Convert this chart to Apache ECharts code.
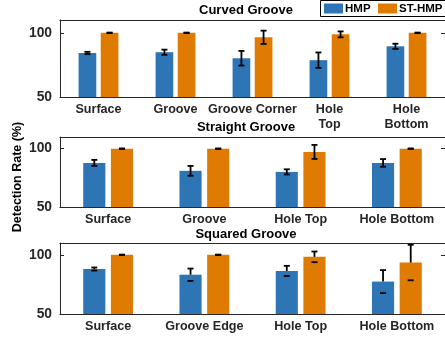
<!DOCTYPE html>
<html>
<head>
<meta charset="utf-8">
<script src="https://cdn.jsdelivr.net/npm/echarts@6/dist/echarts.min.js"></script>
<style>
  html, body { margin: 0; padding: 0; background: #fff; }
  #chart { width: 445px; height: 337px; }
</style>
</head>
<body>
<div id="chart"></div>
<script>
// Curved groove
const curvedCategories = ['Surface', 'Groove', 'Groove Corner', 'Hole\nTop', 'Hole\nBottom'];
const curvedHmp = [84.3, 84.9, 80.2, 78.7, 89.5];
const curvedHmpErr = [0.9, 2.0, 5.7, 6.0, 2.0];
const curvedSt = [100, 100, 96.5, 98.8, 100];
const curvedStErr = [0.2, 0.2, 5.2, 2.3, 0.2];

// Straight groove
const straightCategories = ['Surface', 'Groove', 'Hole Top', 'Hole Bottom'];
const straightHmp = [87.8, 81.0, 80.1, 87.8];
const straightHmpErr = [2.6, 4.2, 2.2, 3.3];
const straightSt = [100, 100, 97.2, 100];
const straightStErr = [0.2, 0.2, 6.0, 0.2];

// Squared groove
const squaredCategories = ['Surface', 'Groove Edge', 'Hole Top', 'Hole Bottom'];
const squaredHmp = [88.0, 83.2, 86.4, 77.4];
const squaredHmpErr = [1.3, 5.2, 4.3, 9.7];
const squaredSt = [100, 100, 98.3, 93.5];
const squaredStErr = [0.2, 0.2, 4.5, 15.0];

const yTicks = [50, 100];
const panelTitles = ['Curved Groove', 'Straight Groove', 'Squared Groove'];
const seriesNames = ['HMP', 'ST-HMP'];

const BLUE = '#2e75b6';
const ORANGE = '#df7b00';
const AXIS = '#262626';
const FONT = '"Liberation Sans", Arial, sans-serif';

const BAR_W = 0.23, BAR_GAP = 0.25;
const OFFSET = (BAR_W + BAR_W * BAR_GAP) / 2;

const panels = [
  { cats: curvedCategories, hmp: curvedHmp, hmpErr: curvedHmpErr, st: curvedSt, stErr: curvedStErr, top: 20, height: 77, upperOnly: false, titleY: 10 },
  { cats: straightCategories, hmp: straightHmp, hmpErr: straightHmpErr, st: straightSt, stErr: straightStErr, top: 137, height: 70, upperOnly: false, titleY: 127.5 },
  { cats: squaredCategories, hmp: squaredHmp, hmpErr: squaredHmpErr, st: squaredSt, stErr: squaredStErr, top: 243, height: 71, upperOnly: true, titleY: 234 }
];

// Error bar drawn beside its bar; upperOnly draws the stem only above the bar top.
function errorBar(sign, upperOnly) {
  return function (params, api) {
    const i = api.value(0), v = api.value(1), e = api.value(2);
    const band = api.size([1, 0])[0];
    const dx = sign * band * OFFSET;
    const hi = api.coord([i, v + e]);
    const lo = api.coord([i, v - e]);
    const mid = api.coord([i, v]);
    const x = hi[0] + dx;
    const cw = 3;
    const style = { stroke: '#000', lineWidth: 1.8 };
    return {
      type: 'group',
      children: [
        { type: 'line', shape: { x1: x, y1: upperOnly ? mid[1] : lo[1], x2: x, y2: hi[1] }, style },
        { type: 'line', shape: { x1: x - cw, y1: hi[1], x2: x + cw, y2: hi[1] }, style },
        { type: 'line', shape: { x1: x - cw, y1: lo[1], x2: x + cw, y2: lo[1] }, style }
      ]
    };
  };
}

const grids = [], xAxes = [], yAxes = [], series = [], graphics = [];
const labelStyle = { color: AXIS, fontFamily: FONT, fontWeight: 'bold', fontSize: 12.6 };

panels.forEach((p, k) => {
  grids.push({ left: 60, right: -3, top: p.top, height: p.height });
  xAxes.push({
    type: 'category', gridIndex: k, data: p.cats, position: 'bottom',
    axisLine: { lineStyle: { color: AXIS, width: 1 } },
    axisTick: { inside: true, alignWithLabel: true, length: 4, lineStyle: { color: AXIS } },
    axisLabel: Object.assign({ interval: 0, margin: 5, lineHeight: 15 }, labelStyle)
  });
  xAxes.push({
    type: 'category', gridIndex: k, data: p.cats, position: 'top',
    axisLine: { lineStyle: { color: AXIS, width: 1 } },
    axisTick: { inside: true, alignWithLabel: true, length: 4, lineStyle: { color: AXIS } },
    axisLabel: { show: false }
  });
  const yBase = {
    type: 'value', gridIndex: k, min: 50, max: 110, interval: 50,
    splitLine: { show: false },
    axisLine: { show: true, lineStyle: { color: AXIS, width: 1 } },
    axisTick: { show: true, inside: true, length: 4, lineStyle: { color: AXIS } }
  };
  yAxes.push(Object.assign({}, yBase, {
    position: 'left',
    axisLabel: Object.assign({}, labelStyle, {
      margin: 8, fontSize: 13.8,
      formatter: v => (yTicks.indexOf(v) >= 0 ? String(v) : '')
    })
  }));
  yAxes.push(Object.assign({}, yBase, { position: 'right', axisLabel: { show: false } }));

  const xi = k * 2, yi = k * 2;
  series.push({
    name: seriesNames[0], type: 'bar', xAxisIndex: xi, yAxisIndex: yi,
    data: p.hmp, barWidth: (BAR_W * 100) + '%', barGap: (BAR_GAP * 100) + '%',
    itemStyle: { color: BLUE }
  });
  series.push({
    name: seriesNames[1], type: 'bar', xAxisIndex: xi, yAxisIndex: yi,
    data: p.st, barWidth: (BAR_W * 100) + '%', barGap: (BAR_GAP * 100) + '%',
    itemStyle: { color: ORANGE }
  });
  series.push({
    type: 'custom', xAxisIndex: xi, yAxisIndex: yi, z: 5,
    renderItem: errorBar(-1, p.upperOnly),
    encode: { x: 0, y: 1 },
    data: p.hmp.map((v, i) => [i, v, p.hmpErr[i]])
  });
  series.push({
    type: 'custom', xAxisIndex: xi, yAxisIndex: yi, z: 5,
    renderItem: errorBar(1, p.upperOnly),
    encode: { x: 0, y: 1 },
    data: p.st.map((v, i) => [i, v, p.stErr[i]])
  });

  graphics.push({
    type: 'text', x: 246, y: p.titleY,
    style: { text: panelTitles[k], fill: '#000', font: 'bold 13px ' + FONT, textAlign: 'center', textVerticalAlign: 'middle' }
  });
});

graphics.push({
  type: 'text', x: 18, y: 177, rotation: Math.PI / 2,
  style: { text: 'Detection Rate (%)', fill: '#000', font: 'bold 12.5px ' + FONT, textAlign: 'center', textVerticalAlign: 'middle' }
});

// Legend box in the top-right corner
const legendItems = [
  { name: seriesNames[0], color: BLUE, x: 324 },
  { name: seriesNames[1], color: ORANGE, x: 378 }
];
graphics.push({
  type: 'rect', z: 20,
  shape: { x: 320.5, y: 0.5, width: 130, height: 16 },
  style: { fill: '#fff', stroke: '#000', lineWidth: 1 }
});
legendItems.forEach(it => {
  graphics.push({
    type: 'rect', z: 21,
    shape: { x: it.x, y: 3.5, width: 19, height: 10 },
    style: { fill: it.color }
  });
  graphics.push({
    type: 'text', z: 21, x: it.x + 21, y: 9,
    style: { text: it.name, fill: '#000', font: 'bold 11.5px ' + FONT, textAlign: 'left', textVerticalAlign: 'middle' }
  });
});

const chart = echarts.init(document.getElementById('chart'), null, { renderer: 'canvas' });
chart.setOption({
  animation: false,
  backgroundColor: '#fff',
  grid: grids,
  xAxis: xAxes,
  yAxis: yAxes,
  series: series,
  graphic: graphics
});
</script>
</body>
</html>
